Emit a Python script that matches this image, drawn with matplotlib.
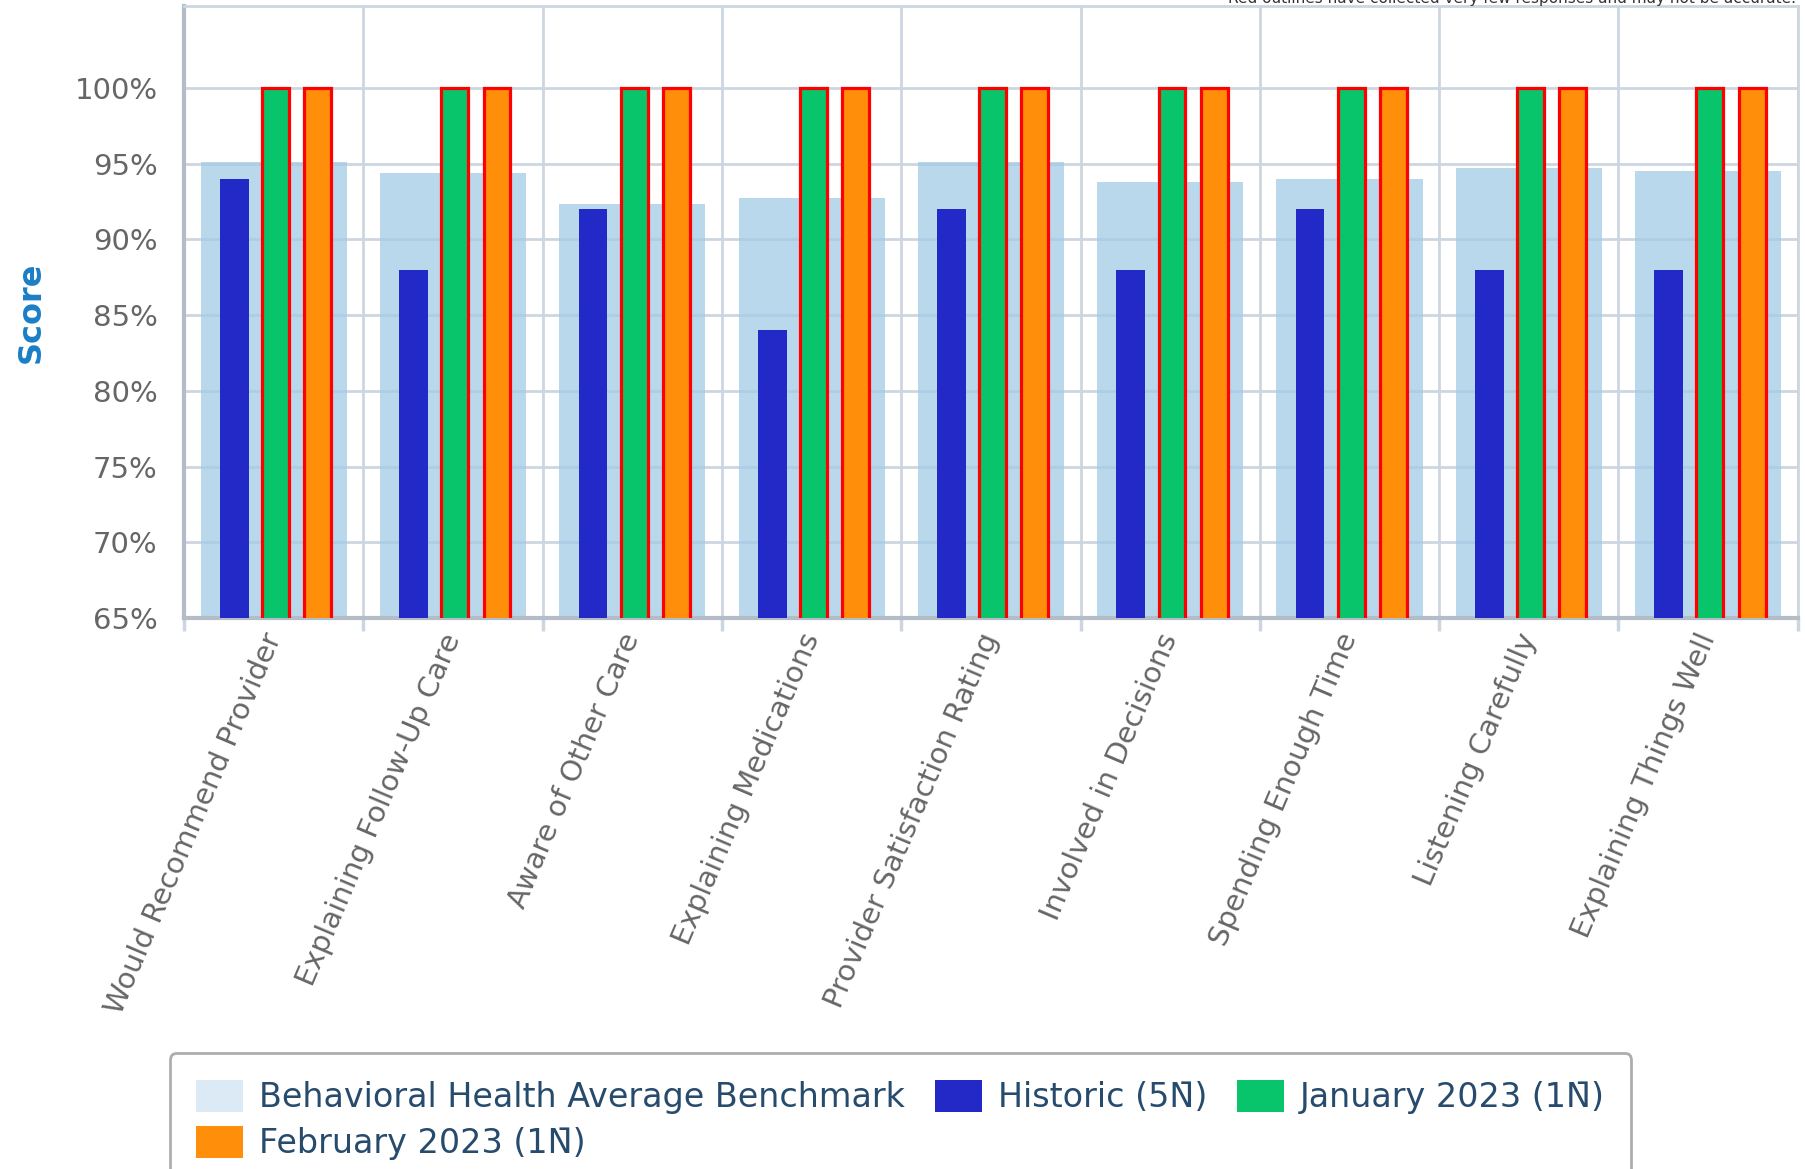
import numpy as np
import matplotlib
matplotlib.use('Agg')
import matplotlib.pyplot as plt
from matplotlib.patches import Patch

# data
categories = ['Would Recommend Provider', 'Explaining Follow-Up Care', 'Aware of Other Care',
              'Explaining Medications', 'Provider Satisfaction Rating', 'Involved in Decisions',
              'Spending Enough Time', 'Listening Carefully', 'Explaining Things Well']
benchmark = [95.1, 94.4, 92.3, 92.7, 95.1, 93.8, 94.0, 94.7, 94.5]
historic = [94, 88, 92, 84, 92, 88, 92, 88, 88]
jan_2023 = [100, 100, 100, 100, 100, 100, 100, 100, 100]
feb_2023 = [100, 100, 100, 100, 100, 100, 100, 100, 100]
yticks = [65, 70, 75, 80, 85, 90, 95, 100]
series_labels = ['Behavioral Health Average Benchmark', 'Historic (5N\u0304)',
                 'January 2023 (1N\u0304)', 'February 2023 (1N\u0304)']

grid_col = '#cdd6e0'
text_col = '#666666'

fig = plt.figure(figsize=(18.05, 11.69), dpi=100)
ax = fig.add_axes([0.102, 0.4713, 0.894, 0.5236])

x = np.arange(len(categories))
ax.bar(x, benchmark, width=0.815, color='#a3cbe6', alpha=0.75, zorder=2)
ax.bar(x - 0.22, historic, width=0.16, color='#2329c6', zorder=3)
ax.bar(x + 0.01, jan_2023, width=0.15, color='#08c46a', edgecolor='#ff0000', linewidth=2.3, zorder=3)
ax.bar(x + 0.245, feb_2023, width=0.15, color='#ff8f0a', edgecolor='#ff0000', linewidth=2.3, zorder=3)

ax.set_xlim(-0.5, len(categories) - 0.5)
ax.set_ylim(65, 105.4)

# y axis
ax.set_yticks(yticks)
ax.set_yticklabels([f'{v}%' for v in yticks], fontsize=21, color=text_col)
ax.tick_params(axis='y', length=0, pad=19)
ax.yaxis.grid(True, color=grid_col, linewidth=2, zorder=1)

# x axis: labels near centres (no tick marks), grid/ticks at boundaries
ax.set_xticks(x - 0.07)
ax.set_xticklabels(categories, rotation=67, ha='right', va='top', rotation_mode='anchor',
                   fontsize=21, color=text_col)
ax.tick_params(axis='x', which='major', length=0, pad=8)
ax.set_xticks(np.arange(len(categories) + 1) - 0.5, minor=True)
ax.tick_params(axis='x', which='minor', length=9, width=2.5, color=grid_col)
ax.xaxis.grid(True, which='minor', color=grid_col, linewidth=2, zorder=1)
ax.set_axisbelow(True)

for side in ['top', 'right']:
    ax.spines[side].set_color(grid_col)
    ax.spines[side].set_linewidth(2)
ax.spines['left'].set_color('#b4bcc8')
ax.spines['left'].set_linewidth(3)
ax.spines['bottom'].set_color('#b4bcc8')
ax.spines['bottom'].set_linewidth(3)

ax.set_ylabel('Score', fontsize=23, fontweight='bold', color='#1b7ec6')
ax.yaxis.set_label_coords(-0.085, 0.5)

# legend, ordered so rows read left to right
handles = [Patch(facecolor='#dbeaf5', label=series_labels[0]),
           Patch(facecolor='#ff8f0a', label=series_labels[3]),
           Patch(facecolor='#2329c6', label=series_labels[1]),
           Patch(facecolor='#08c46a', label=series_labels[2])]
leg = fig.legend(handles=handles, loc='upper left', bbox_to_anchor=(0.094, 0.0992), ncol=3,
                 fontsize=24, frameon=True, fancybox=True, handlelength=1.4, handleheight=1.1,
                 columnspacing=0.9, handletextpad=0.48, labelspacing=0.35, borderpad=0.8,
                 borderaxespad=0)
leg.get_frame().set_edgecolor('#999999')
leg.get_frame().set_linewidth(2)
for t in leg.get_texts():
    t.set_color('#274b6d')

fig.text(0.995, 1 - 3 / 1169, 'Red outlines have collected very few responses and may not be accurate.',
         ha='right', va='baseline', fontsize=11, color='#333333')

fig.savefig('out.png', dpi=100)
